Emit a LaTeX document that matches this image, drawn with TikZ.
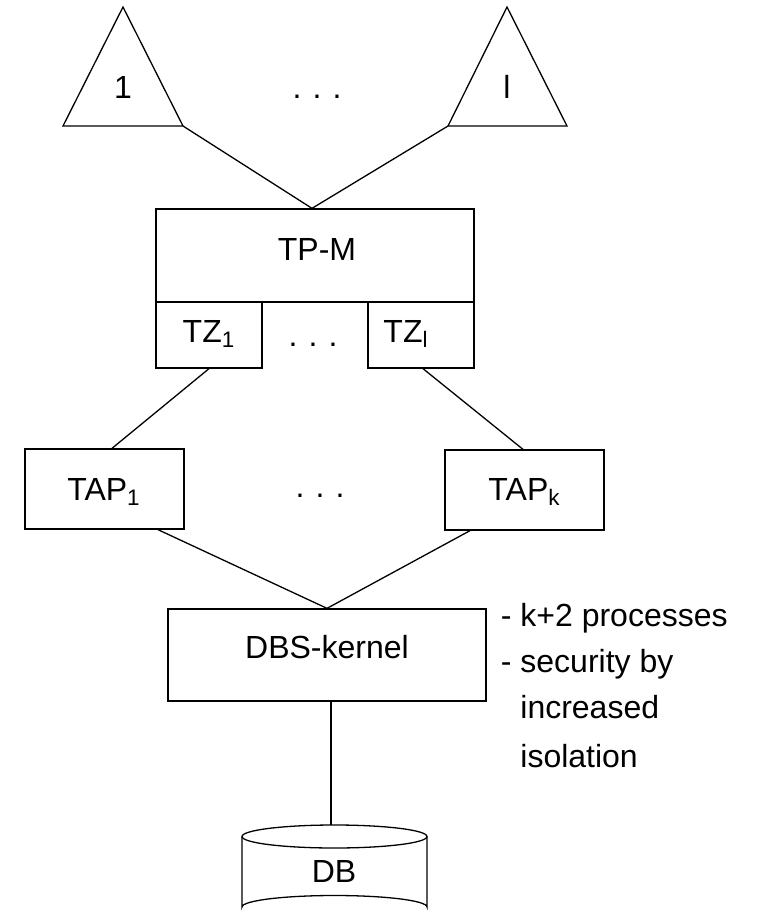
\documentclass[tikz,border=0pt]{standalone}
\usepackage{fontspec}
\setmainfont{Liberation Sans}
\usetikzlibrary{calc}
\tikzset{
  box/.style={draw, rectangle, inner sep=0pt, line width=0.65pt},
  lbl/.style={inner sep=0pt, anchor=base, font=\fontsize{16}{19}\selectfont},
  note/.style={inner sep=0pt, anchor=base west, font=\fontsize{16}{19}\selectfont},
  conn/.style={line width=0.65pt},
}
\newcommand{\mydots}{.\hspace{5.55pt}.\hspace{5.55pt}.}
\begin{document}
\begin{tikzpicture}[x=0.5pt,y=-0.5pt]
\useasboundingbox (0,0) rectangle (760,916);
% triangles
\coordinate (t1a) at (123,7);
\coordinate (t1l) at (63,126);
\coordinate (t1r) at (183,126);
\coordinate (t2a) at (507,7);
\coordinate (t2l) at (448,126);
\coordinate (t2r) at (567,126);
\draw[conn, line join=miter] (t1a) -- (t1l) -- (t1r) -- cycle;
\draw[conn, line join=miter] (t2a) -- (t2l) -- (t2r) -- cycle;
\node[lbl] (n1) at (123,98) {1};
\node[lbl] (nl) at (507,98) {l};
\node[lbl] (d1) at (317,98) {\mydots};
% TP-M
\node[box, minimum width=159pt, minimum height=46.5pt] (tpm) at (315,255.5) {};
\node[lbl] (tpmt) at (317,260) {TP-M};
\node[box, minimum width=53pt, minimum height=33pt] (tz1) at (209,335) {};
\node[box, minimum width=53pt, minimum height=33pt] (tzl) at (421,335) {};
\node[lbl] (tz1t) at (209,342) {TZ\textsubscript{1}};
\node[lbl] (tzlt) at (406,342) {TZ\textsubscript{l}};
\node[lbl] (d2) at (313,346) {\mydots};
% TAP
\node[box, minimum width=79.5pt, minimum height=40pt] (tap1) at (104.5,489) {};
\node[box, minimum width=79.5pt, minimum height=40pt] (tapk) at (524.5,490) {};
\node[lbl] (tap1t) at (104,500) {TAP\textsubscript{1}};
\node[lbl] (tapkt) at (524.5,500) {TAP\textsubscript{k}};
\node[lbl] (d3) at (320,497) {\mydots};
% DBS
\node[box, minimum width=159pt, minimum height=46pt] (dbs) at (327,655) {};
\node[lbl] (dbst) at (327,658) {DBS-kernel};
% notes
\node[note] (m1) at (500.5,626) {- k+2 processes};
\node[note] (m2) at (500.5,672) {- security by};
\node[note] (m3) at (520,718) {increased};
\node[note] (m4) at (520,767) {isolation};
% DB cylinder
\coordinate (dbtop) at (331,825);
\draw[conn] (242,836.5) -- (242,907) arc[start angle=180, end angle=360, x radius=92.5, y radius=11.5] -- (427,836.5);
\draw[conn] (334.5,836.5) ellipse [x radius=92.5, y radius=11.5];
\node[lbl] (dbt) at (334,882) {DB};
% connectors
\draw[conn] (t1r) -- ([xshift=-1.5pt]tpm.north);
\draw[conn] (t2l) -- ([xshift=-1.5pt]tpm.north);
\draw[conn] (tz1.south) -- ([xshift=3.75pt]tap1.north);
\draw[conn] ([xshift=1pt]tzl.south) -- ([xshift=-0.75pt]tapk.north);
\draw[conn] ([xshift=26.75pt]tap1.south) -- (dbs.north);
\draw[conn] ([xshift=-27.25pt]tapk.south) -- (dbs.north);
\draw[conn] ([xshift=2pt]dbs.south) -- (dbtop);
\end{tikzpicture}
\end{document}
